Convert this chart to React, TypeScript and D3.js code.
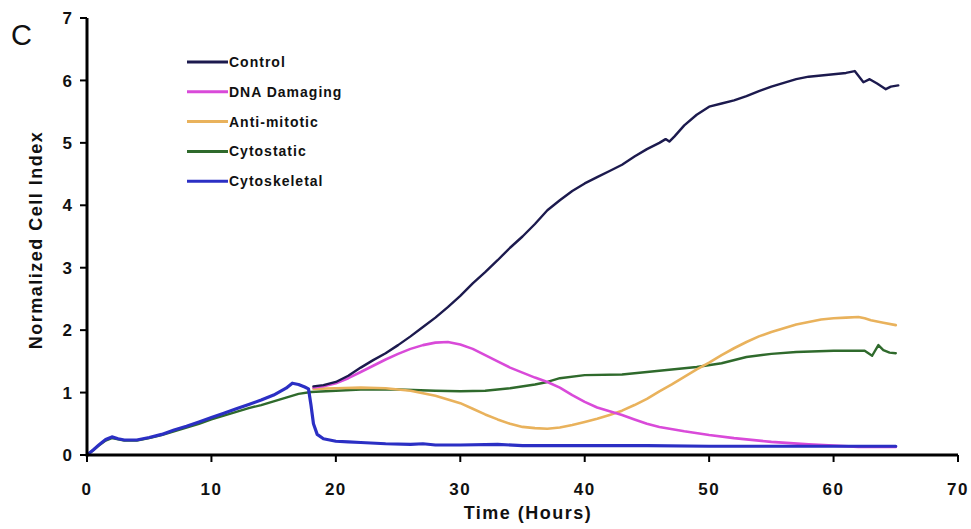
import React from "react";
import * as d3 from "d3";

// Time (hours) and normalized cell index for each treatment class
const cytoskeletalTime = [0, 0.5, 1, 1.5, 2, 2.5, 3, 4, 5, 6, 7, 8, 9, 10, 11, 12, 13, 14, 15, 16, 16.5, 17, 17.5, 17.8, 18, 18.2, 18.5, 19, 20, 21, 22, 24, 26, 27, 28, 30, 33, 35, 40, 45, 50, 55, 60, 65];
const cytoskeletalValue = [0, 0.08, 0.17, 0.25, 0.29, 0.26, 0.24, 0.24, 0.28, 0.33, 0.4, 0.46, 0.53, 0.6, 0.67, 0.74, 0.81, 0.88, 0.96, 1.07, 1.15, 1.13, 1.09, 1.06, 0.8, 0.5, 0.33, 0.26, 0.22, 0.21, 0.2, 0.18, 0.17, 0.18, 0.16, 0.16, 0.17, 0.15, 0.15, 0.15, 0.14, 0.14, 0.14, 0.14];

const cytostaticTime = [0, 0.5, 1, 1.5, 2, 2.5, 3, 4, 5, 6, 7, 8, 9, 10, 11, 12, 13, 14, 15, 16, 17, 18, 20, 22, 25, 28, 30, 32, 34, 36, 37, 38, 40, 43, 46, 49, 51, 53, 55, 57, 60, 62.5, 63.1, 63.6, 64, 64.5, 65];
const cytostaticValue = [0, 0.08, 0.16, 0.23, 0.27, 0.25, 0.23, 0.23, 0.27, 0.32, 0.38, 0.44, 0.5, 0.57, 0.63, 0.69, 0.75, 0.8, 0.86, 0.92, 0.98, 1.01, 1.03, 1.05, 1.05, 1.03, 1.02, 1.03, 1.07, 1.13, 1.17, 1.23, 1.28, 1.29, 1.35, 1.41, 1.47, 1.57, 1.62, 1.65, 1.67, 1.67, 1.59, 1.76, 1.68, 1.64, 1.63];

const controlTime = [18.2, 19, 20, 21, 22, 23, 24, 25, 26, 27, 28, 29, 30, 31, 32, 33, 34, 35, 36, 37, 38, 39, 40, 41, 42, 43, 44, 45, 46, 46.5, 46.8, 47.2, 48, 49, 50, 51, 52, 53, 54, 55, 56, 57, 58, 59, 60, 61, 61.7, 62.4, 62.9, 63.5, 64.2, 64.6, 65.2];
const controlValue = [1.1, 1.12, 1.17, 1.27, 1.4, 1.52, 1.63, 1.76, 1.9, 2.05, 2.2, 2.37, 2.55, 2.75, 2.93, 3.12, 3.32, 3.5, 3.7, 3.92, 4.08, 4.23, 4.35, 4.45, 4.55, 4.65, 4.78, 4.9, 5.0, 5.06, 5.02, 5.1, 5.28, 5.45, 5.58, 5.63, 5.68, 5.75, 5.83, 5.9, 5.96, 6.02, 6.06, 6.08, 6.1, 6.12, 6.15, 5.97, 6.02, 5.95, 5.86, 5.9, 5.92];

const dnaTime = [18.2, 19, 20, 21, 22, 23, 24, 25, 26, 27, 28, 29, 30, 31, 32, 33, 34, 35, 36, 37, 38, 39, 40, 41, 42, 43, 44, 45, 46, 48, 50, 52, 55, 58, 60, 62, 65];
const dnaValue = [1.08, 1.1, 1.15, 1.23, 1.33, 1.43, 1.53, 1.62, 1.7, 1.76, 1.8, 1.81, 1.77, 1.7, 1.6, 1.5, 1.4, 1.32, 1.24, 1.17, 1.08, 0.96, 0.85, 0.76, 0.7, 0.64, 0.57, 0.5, 0.45, 0.38, 0.32, 0.27, 0.21, 0.17, 0.15, 0.13, 0.13];

const antiTime = [18.2, 20, 22, 24, 26, 27, 28, 29, 30, 31, 32, 33, 34, 35, 36, 37, 38, 39, 40, 41, 42, 43, 44, 45, 46, 47, 48, 49, 50, 51, 52, 53, 54, 55, 56, 57, 58, 59, 60, 61, 62, 62.5, 63, 64, 65];
const antiValue = [1.06, 1.07, 1.08, 1.07, 1.03, 0.99, 0.95, 0.89, 0.83, 0.74, 0.65, 0.57, 0.5, 0.45, 0.43, 0.42, 0.44, 0.48, 0.53, 0.58, 0.64, 0.71, 0.8, 0.9, 1.02, 1.13, 1.25, 1.37, 1.48, 1.6, 1.71, 1.81, 1.9, 1.97, 2.03, 2.09, 2.13, 2.17, 2.19, 2.2, 2.21, 2.19, 2.16, 2.12, 2.08];

const seriesNames = ["Control", "DNA Damaging", "Anti-mitotic", "Cytostatic", "Cytoskeletal"];
const seriesColors = ["#1c1a4e", "#d94ad9", "#e9b25c", "#2f6a2c", "#2b2fc4"];

const xTicks = [0, 10, 20, 30, 40, 50, 60, 70];
const yTicks = [0, 1, 2, 3, 4, 5, 6, 7];

const W = 971;
const H = 529;
const FONT = "'Liberation Sans', Arial, sans-serif";

export default function App() {
  const x = d3.scaleLinear().domain([0, 70]).range([87, 958]);
  const y = d3.scaleLinear().domain([0, 7]).range([455, 18]);

  const line = d3
    .line<[number, number]>()
    .x((d) => x(d[0]))
    .y((d) => y(d[1]));

  const zip = (t: number[], v: number[]) => t.map((tt, i) => [tt, v[i]] as [number, number]);

  // draw order: lower layers first, cytoskeletal on top of the shared early section
  const layers = [
    { data: zip(cytostaticTime, cytostaticValue), color: seriesColors[3], w: 2.4 },
    { data: zip(antiTime, antiValue), color: seriesColors[2], w: 2.6 },
    { data: zip(dnaTime, dnaValue), color: seriesColors[1], w: 2.6 },
    { data: zip(controlTime, controlValue), color: seriesColors[0], w: 2.4 },
    { data: zip(cytoskeletalTime, cytoskeletalValue), color: seriesColors[4], w: 3.2 },
  ];

  return (
    <svg
      width={W}
      height={H}
      style={{ position: "absolute", left: 0, top: 0, background: "#fff" }}
      fontFamily={FONT}
    >
      <rect x={0} y={0} width={W} height={H} fill="#fff" />

      {/* panel letter */}
      <text x={11} y={45} fontSize={29} fill="#111">C</text>

      {layers.map((l, i) => (
        <path
          key={i}
          d={line(l.data) || ""}
          fill="none"
          stroke={l.color}
          strokeWidth={l.w}
          strokeLinejoin="round"
          strokeLinecap="round"
        />
      ))}

      {/* y axis */}
      <line x1={87} x2={87} y1={y(7)} y2={y(0) + 1.5} stroke="#000" strokeWidth={3} />
      {yTicks.map((t) => (
        <g key={t}>
          <line x1={80} x2={87} y1={y(t)} y2={y(t)} stroke="#000" strokeWidth={2} />
          <text
            x={72}
            y={y(t)}
            dy="0.36em"
            textAnchor="end"
            fontSize={17}
            fontWeight="bold"
            fill="#111"
          >
            {t}
          </text>
        </g>
      ))}

      {/* x axis */}
      <line x1={86} x2={958} y1={y(0)} y2={y(0)} stroke="#000" strokeWidth={3} />
      {xTicks.map((t) => (
        <g key={t}>
          <line x1={x(t)} x2={x(t)} y1={y(0)} y2={y(0) + 7} stroke="#000" strokeWidth={2} />
          <text
            x={x(t)}
            y={495}
            textAnchor="middle"
            fontSize={17}
            fontWeight="bold"
            letterSpacing={1.5}
            fill="#111"
          >
            {t}
          </text>
        </g>
      ))}

      <text
        x={528}
        y={519}
        textAnchor="middle"
        fontSize={18}
        fontWeight="bold"
        letterSpacing={1.5}
        fill="#111"
      >
        Time (Hours)
      </text>

      <text
        transform="translate(42,240) rotate(-90)"
        textAnchor="middle"
        fontSize={18}
        fontWeight="bold"
        letterSpacing={1.5}
        fill="#111"
      >
        Normalized Cell Index
      </text>

      {/* legend */}
      {seriesNames.map((name, i) => {
        const ly = 62 + i * 29.8;
        return (
          <g key={name}>
            <line x1={187} x2={228} y1={ly} y2={ly} stroke={seriesColors[i]} strokeWidth={3} />
            <text
              x={229}
              y={ly}
              dy="0.35em"
              fontSize={14}
              fontWeight="bold"
              letterSpacing={1}
              fill="#111"
            >
              {name}
            </text>
          </g>
        );
      })}
    </svg>
  );
}
